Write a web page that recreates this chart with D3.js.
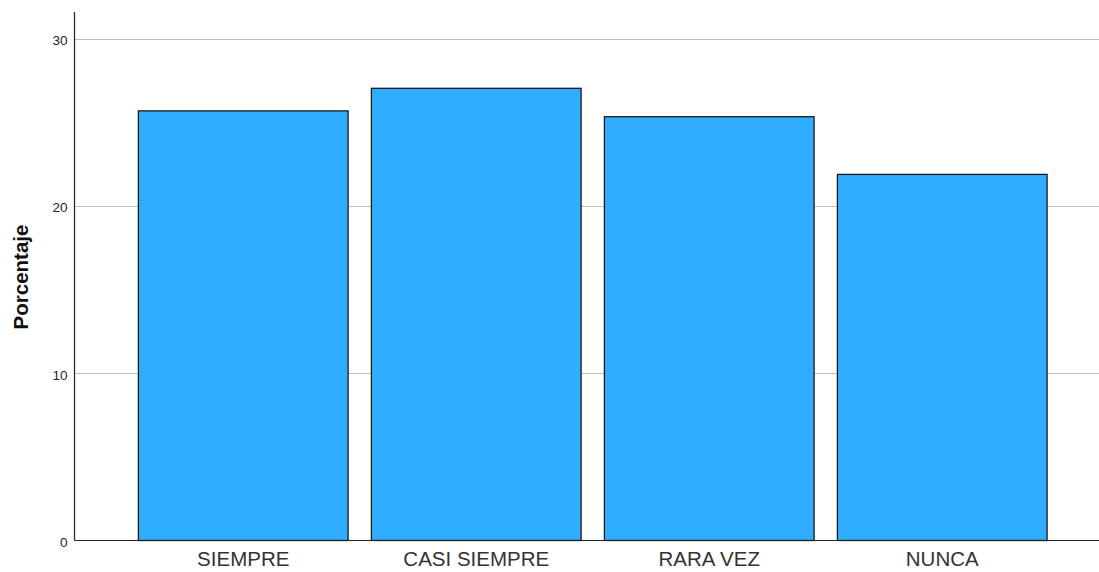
<!DOCTYPE html>
<html><head><meta charset="utf-8">
<script src="https://cdn.jsdelivr.net/npm/d3@7"></script>
<style>body{margin:0;background:#fff}svg{display:block}text{font-family:Arial,"Liberation Sans",sans-serif}</style>
</head><body><svg width="1099" height="572"></svg>
<script>
const categories = ["SIEMPRE", "CASI SIEMPRE", "RARA VEZ", "NUNCA"];
const values = [25.7, 27.05, 25.35, 21.9];
const yTicks = [0, 10, 20, 30];
const yLabel = "Porcentaje";

const svg = d3.select("svg");
const x0 = 74.5, xEnd = 1099, yBase = 540.5;
const y = d3.scaleLinear().domain([0, 30]).range([yBase, 39]);
const x = d3.scaleBand().domain(categories).range([126.75, 1058.75]).paddingInner(0.1).paddingOuter(0.05);

// grid
svg.append("g").selectAll("line").data(yTicks.filter(d => d > 0)).join("line")
  .attr("x1", x0).attr("x2", xEnd).attr("y1", d => Math.round(y(d)) + 0.5).attr("y2", d => Math.round(y(d)) + 0.5)
  .attr("stroke", "#bdbdbd").attr("stroke-width", 1);

// bars
svg.append("g").selectAll("rect").data(categories).join("rect")
  .attr("x", d => x(d)).attr("y", (d, i) => y(values[i]))
  .attr("width", x.bandwidth()).attr("height", (d, i) => yBase - y(values[i]))
  .attr("fill", "#31adff").attr("stroke", "#1a1a1a").attr("stroke-width", 1.3);

// y axis
const yAxis = d3.axisLeft(y).tickValues(yTicks).tickSize(0).tickPadding(7).tickFormat(d3.format("d"));
const ga = svg.append("g").attr("transform", `translate(${x0},0)`).call(yAxis);
ga.select(".domain").remove();
ga.selectAll("text").attr("font-size", 13.5).attr("fill", "#222").attr("dy", "0.42em").attr("font-family", "Arial, 'Liberation Sans', sans-serif");
svg.append("line").attr("x1", x0).attr("x2", x0).attr("y1", 12).attr("y2", yBase).attr("stroke", "#222").attr("stroke-width", 1.2);
svg.append("line").attr("x1", x0).attr("x2", xEnd).attr("y1", yBase).attr("y2", yBase).attr("stroke", "#222").attr("stroke-width", 1.2);

// x axis labels
const xAxis = d3.axisBottom(x).tickSize(0).tickPadding(11);
const gx = svg.append("g").attr("transform", `translate(0,${yBase})`).call(xAxis);
gx.select(".domain").remove();
gx.selectAll("text").attr("font-size", 20.5).attr("fill", "#333").attr("font-family", "Arial, 'Liberation Sans', sans-serif");

svg.append("text").attr("transform", `translate(28,277) rotate(-90)`)
  .attr("text-anchor", "middle").attr("font-size", 20.5).attr("font-weight", "bold").attr("fill", "#111").text(yLabel);
</script></body></html>
